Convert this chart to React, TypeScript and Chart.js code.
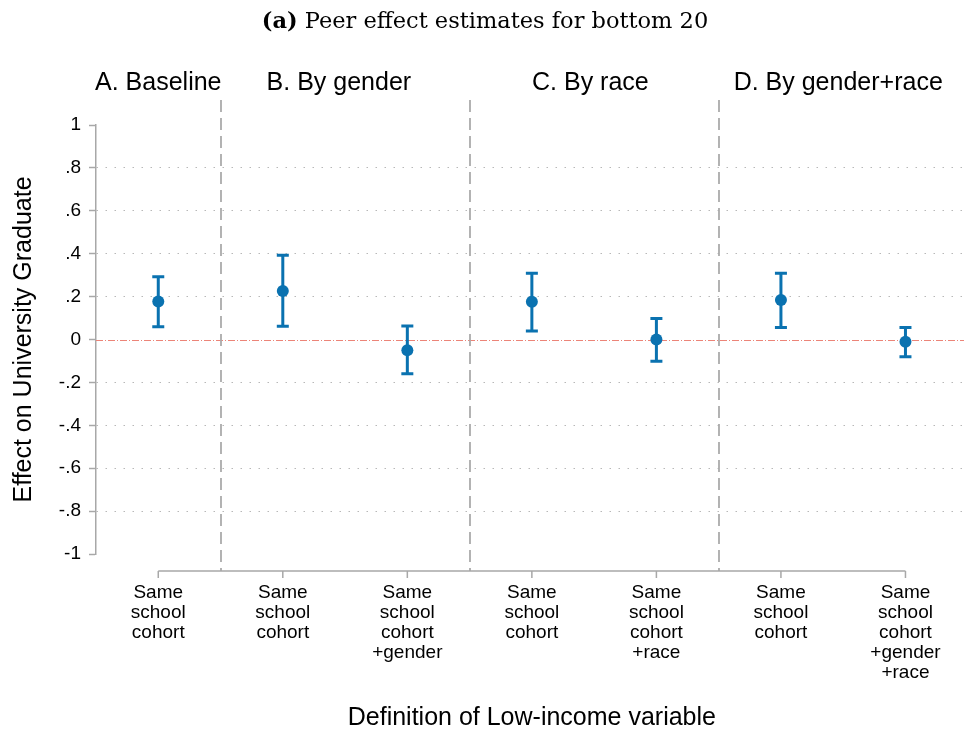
import React, { useEffect, useRef } from "react";
import { Chart, registerables } from "chart.js";

Chart.register(...registerables);

// ---- Data ----
const categories: string[][] = [
  ["Same", "school", "cohort"],
  ["Same", "school", "cohort"],
  ["Same", "school", "cohort", "+gender"],
  ["Same", "school", "cohort"],
  ["Same", "school", "cohort", "+race"],
  ["Same", "school", "cohort"],
  ["Same", "school", "cohort", "+gender", "+race"],
];
const estimates = [0.177, 0.226, -0.05, 0.176, 0.0, 0.184, -0.011];
const ciLow = [0.06, 0.062, -0.16, 0.04, -0.101, 0.056, -0.081];
const ciHigh = [0.293, 0.393, 0.063, 0.309, 0.098, 0.309, 0.056];
const yTickValues = [1, 0.8, 0.6, 0.4, 0.2, 0, -0.2, -0.4, -0.6, -0.8, -1];
const yTickLabels = ["1", ".8", ".6", ".4", ".2", "0", "-.2", "-.4", "-.6", "-.8", "-1"];
const panelLabels = ["A. Baseline", "B. By gender", "C. By race", "D. By gender+race"];
const panelCenters = [0, 1.45, 3.47, 5.46];
const panelDividers = [0.5, 2.5, 4.5];
const titleBold = "(a)";
const titleRest = " Peer effect estimates for bottom 20";
const yTitle = "Effect on University Graduate";
const xTitle = "Definition of Low-income variable";

const BLUE = "#0a72b0";
const SANS = "'Liberation Sans', Arial, sans-serif";
const SERIF = "'DejaVu Serif', serif";

const decorPlugin = {
  id: "decor",
  beforeDatasetsDraw(chart: any) {
    const { ctx, chartArea, scales } = chart;
    const x = scales.x;
    const y = scales.y;
    ctx.save();
    // zero line
    const y0 = Math.round(y.getPixelForValue(0)) + 0.5;
    ctx.strokeStyle = "#ec8478";
    ctx.lineWidth = 1;
    ctx.setLineDash([7, 2, 1, 2]);
    ctx.beginPath();
    ctx.moveTo(chartArea.left, y0);
    ctx.lineTo(chartArea.right, y0);
    ctx.stroke();
    // dividers
    ctx.strokeStyle = "#ababab";
    ctx.lineWidth = 1.8;
    ctx.setLineDash([12, 6]);
    panelDividers.forEach((d) => {
      const px = Math.round(x.getPixelForValue(d));
      ctx.beginPath();
      ctx.moveTo(px, 100);
      ctx.lineTo(px, chartArea.bottom + 17);
      ctx.stroke();
    });
    ctx.setLineDash([]);
    // error bars
    ctx.strokeStyle = BLUE;
    ctx.lineWidth = 3;
    estimates.forEach((_, i) => {
      const px = x.getPixelForValue(i);
      const lo = y.getPixelForValue(ciLow[i]);
      const hi = y.getPixelForValue(ciHigh[i]);
      ctx.beginPath();
      ctx.moveTo(px, lo);
      ctx.lineTo(px, hi);
      ctx.moveTo(px - 6, lo);
      ctx.lineTo(px + 6, lo);
      ctx.moveTo(px - 6, hi);
      ctx.lineTo(px + 6, hi);
      ctx.stroke();
    });
    ctx.restore();
  },
  afterDraw(chart: any) {
    const { ctx, chartArea, scales } = chart;
    const x = scales.x;
    ctx.save();
    // x axis line
    const axY = chartArea.bottom + 17;
    const x0 = x.getPixelForValue(0);
    const x6 = x.getPixelForValue(categories.length - 1);
    ctx.strokeStyle = "#a8a8a8";
    ctx.lineWidth = 1.5;
    ctx.beginPath();
    ctx.moveTo(x0, axY);
    ctx.lineTo(x6, axY);
    categories.forEach((_, i) => {
      const px = x.getPixelForValue(i);
      ctx.moveTo(px, axY);
      ctx.lineTo(px, axY + 7);
    });
    ctx.stroke();

    ctx.fillStyle = "#000";
    ctx.textBaseline = "middle";
    // panel labels
    ctx.font = `25px ${SANS}`;
    ctx.textAlign = "center";
    panelLabels.forEach((t, i) => {
      ctx.fillText(t, x.getPixelForValue(panelCenters[i]), 83);
    });
    // x title
    ctx.font = `25px ${SANS}`;
    ctx.fillText(xTitle, (x0 + x6) / 2, 718);
    // y title
    ctx.save();
    ctx.translate(24, (chartArea.top + chartArea.bottom) / 2);
    ctx.rotate(-Math.PI / 2);
    ctx.fillText(yTitle, 0, 0);
    ctx.restore();
    // main title
    ctx.textAlign = "left";
    ctx.font = `bold 22.5px ${SERIF}`;
    const wb = ctx.measureText(titleBold).width;
    ctx.font = `22.5px ${SERIF}`;
    const wr = ctx.measureText(titleRest).width;
    const sx = 485 - (wb + wr) / 2;
    ctx.font = `bold 22.5px ${SERIF}`;
    ctx.fillText(titleBold, sx, 22);
    ctx.font = `22.5px ${SERIF}`;
    ctx.fillText(titleRest, sx + wb, 22);
    ctx.restore();
  },
};

export default function App() {
  const ref = useRef<HTMLCanvasElement>(null);
  useEffect(() => {
    if (!ref.current) return;
    const chart = new Chart(ref.current, {
      type: "scatter",
      data: {
        datasets: [
          {
            data: estimates.map((v, i) => ({ x: i, y: v })),
            backgroundColor: BLUE,
            borderColor: BLUE,
            borderWidth: 0,
            pointRadius: 6,
            pointHoverRadius: 6,
          },
        ],
      },
      options: {
        animation: false,
        responsive: false,
        events: [],
        layout: { padding: { top: 125, left: 0, right: 0, bottom: 0 } },
        plugins: { legend: { display: false }, tooltip: { enabled: false }, title: { display: false } },
        scales: {
          x: {
            type: "linear",
            min: -0.5,
            max: 6.47,
            grid: { display: false, drawTicks: false },
            border: { display: false },
            afterFit: (s: any) => {
              s.height = 177;
            },
            afterBuildTicks: (s: any) => {
              s.ticks = categories.map((_, i) => ({ value: i }));
            },
            ticks: {
              autoSkip: false,
              maxRotation: 0,
              minRotation: 0,
              padding: 29,
              color: "#000",
              font: { family: SANS, size: 19, lineHeight: "20px" },
              callback: (v: any) => categories[Math.round(Number(v))],
            },
          },
          y: {
            type: "linear",
            min: -1,
            max: 1,
            afterFit: (s: any) => {
              s.width = 96;
            },
            afterBuildTicks: (s: any) => {
              s.ticks = yTickValues.map((v) => ({ value: v }));
            },
            grid: {
              color: (c: any) => {
                const v = c.tick ? c.tick.value : 0;
                return Math.abs(v) < 1e-9 || Math.abs(Math.abs(v) - 1) < 1e-9 ? "rgba(0,0,0,0)" : "#b8b8b8";
              },
              lineWidth: 1,
              drawTicks: true,
              tickLength: 7,
              tickColor: "#a8a8a8",
              tickWidth: 1.5,
            },
            border: { display: true, color: "#a8a8a8", width: 1.5, dash: [1.5, 7.5] },
            ticks: {
              padding: 8,
              color: "#000",
              font: { family: SANS, size: 19 },
              callback: (v: any) => {
                const idx = yTickValues.findIndex((t) => Math.abs(t - Number(v)) < 1e-9);
                return idx >= 0 ? yTickLabels[idx] : "";
              },
            },
          },
        },
      },
      plugins: [decorPlugin],
    });
    return () => chart.destroy();
  }, []);
  return (
    <div style={{ position: "absolute", left: 0, top: 0, width: 970, height: 731, background: "#fff" }}>
      <canvas ref={ref} width={970} height={731} style={{ display: "block" }} />
    </div>
  );
}
